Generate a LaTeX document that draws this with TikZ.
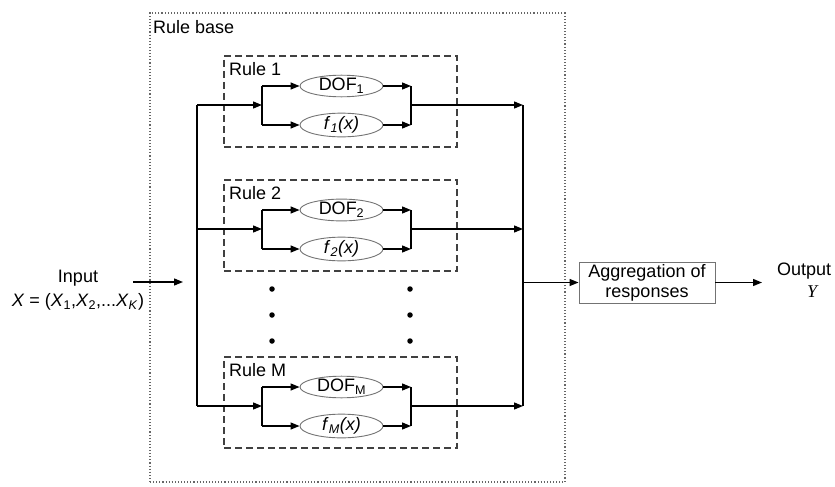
\documentclass[tikz,border=0pt]{standalone}
\usepackage{fontspec}
\setmainfont{Liberation Sans}
\newfontfamily\serifit{Liberation Serif}
\usetikzlibrary{arrows.meta,shapes.geometric}
\tikzset{
  ln/.style={line width=1.3pt,black},
  arr/.style={ln,-{Triangle[length=9pt,width=7pt]}},
  rulebox/.style={draw=black!75,dashed,dash pattern=on 7pt off 4pt,line width=1.4pt,minimum width=233pt,minimum height=91pt,inner sep=0pt},
  el/.style={draw=black!55,line width=0.9pt,ellipse,minimum width=83pt,minimum height=21pt,inner sep=0pt},
  txt/.style={font=\fontsize{18}{20}\selectfont,inner sep=0pt},
  dot/.style={circle,fill=black,inner sep=0pt,minimum size=5.5pt},
}
\begin{document}
\begin{tikzpicture}[x=1pt,y=-1pt]
\useasboundingbox (0,0) rectangle (835,487);
% outer rule base box
\node[draw=black!60,dotted,line width=1.1pt,minimum width=415pt,minimum height=469pt,inner sep=0pt] (base) at (357.5,247.5) {};
\node[txt,anchor=west] (baselab) at (153,27.5) {Rule base};
\foreach \i/\T/\lab in {1/56/Rule 1, 2/180/Rule 2, M/357/Rule M}{
  \node[rulebox] (box\i) at (340.5,\T+45.5) {};
  \node[txt,anchor=west] (lab\i) at (229,\T+13) {\lab};
  \node[el,txt,minimum width=83pt,minimum height=21pt] (dof\i) at (341.5,\T+30) {DOF\textsubscript{\i}};
  \node[el,txt,minimum width=83pt,minimum height=21pt] (f\i) at (341.5,\T+69) {\textit{f}\textsubscript{\textit{\i}}\textit{(x)}};
  \coordinate (in\i) at (197,\T+49);
  \coordinate (sp\i) at (262,\T+49);
  \coordinate (spt\i) at (262,\T+30);
  \coordinate (spb\i) at (262,\T+69);
  \coordinate (mg\i) at (411,\T+49);
  \coordinate (mgt\i) at (411,\T+30);
  \coordinate (mgb\i) at (411,\T+69);
  \coordinate (out\i) at (523,\T+49);
  \draw[arr] (in\i) -- (sp\i);
  \draw[ln] (spt\i) -- (spb\i);
  \draw[arr] (spt\i) -- (dof\i.west);
  \draw[arr] (spb\i) -- (f\i.west);
  \draw[arr] (dof\i.east) -- (mgt\i);
  \draw[arr] (f\i.east) -- (mgb\i);
  \draw[ln] (mgt\i) -- (mgb\i);
  \draw[arr] (mg\i) -- (out\i);
}
% trunks
\draw[ln] (in1) -- (inM);
\draw[ln] (out1) -- (outM);
% dots
\foreach \y [count=\k] in {289,315,341}{
  \node[dot] (dl\k) at (272,\y) {};
  \node[dot] (dr\k) at (410,\y) {};
}
% input
\node[txt,align=center] (inlab) at (78,290) {Input\\[4pt]\textit{X} = (\textit{X}\textsubscript{1},\textit{X}\textsubscript{2},...\textit{X}\textsubscript{\textit{K}})};
\coordinate (ia) at (133,282);
\coordinate (ib) at (183,282);
\draw[arr] (ia) -- (ib);
% aggregation
\node[draw=black!55,line width=0.9pt,txt,align=center,minimum width=136pt,minimum height=41pt] (agg) at (647,282.5) {Aggregation of\\responses};
\coordinate (trk) at (523,282.5);
\draw[arr] (trk) -- (agg.west);
\coordinate (oa) at (762,282.5);
\draw[arr] (agg.east) -- (oa);
\node[txt,anchor=west] (outlab) at (777,271) {Output};
\node[txt,font=\fontsize{18}{20}\serifit\itshape] (ylab) at (812,292) {Y};
\end{tikzpicture}
\end{document}
